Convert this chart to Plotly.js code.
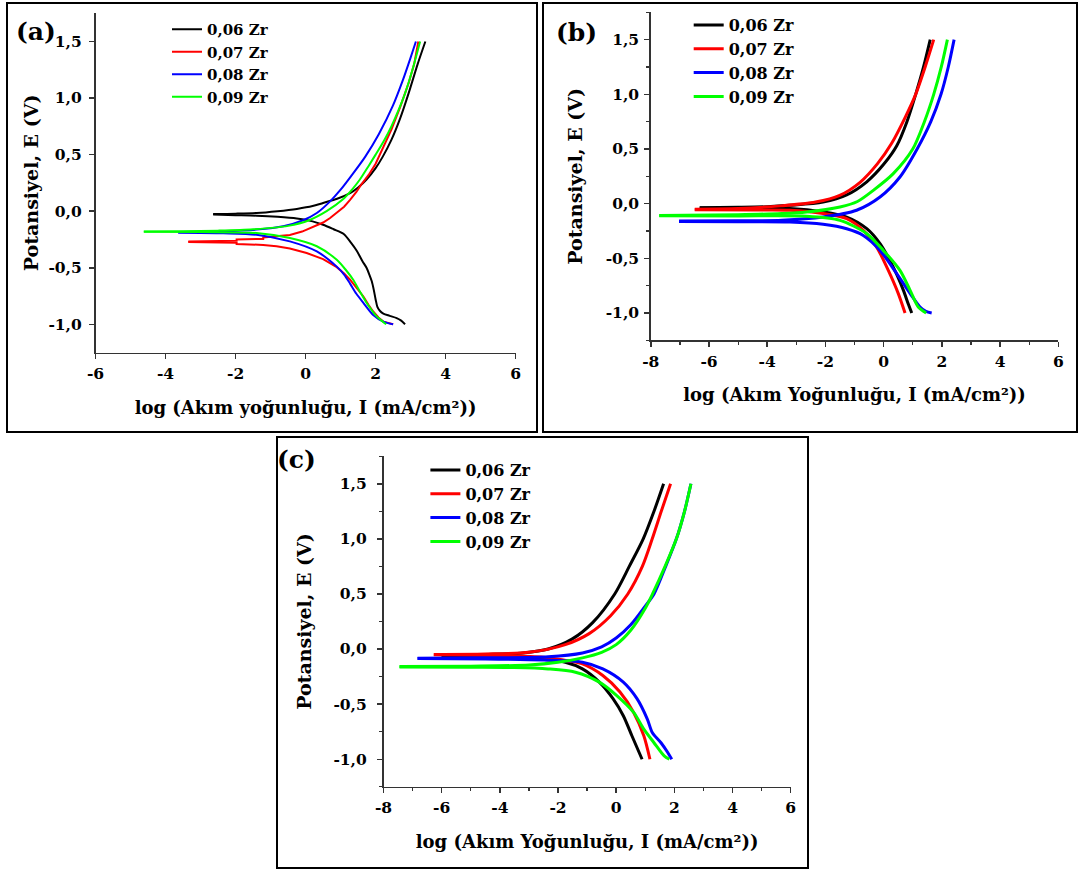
<!DOCTYPE html>
<html>
<head>
<meta charset="utf-8">
<script src="https://cdn.plot.ly/plotly-3.0.1.min.js"></script>
<style>
  html, body { margin: 0; padding: 0; background: #ffffff; }
  #chart { width: 1081px; height: 870px; }
</style>
</head>
<body>
<div id="chart"></div>
<script>
// ---------------- DATA (log I, E) ----------------
const seriesNames = ['0,06 Zr', '0,07 Zr', '0,08 Zr', '0,09 Zr'];

const yTickVals = [-1.0, -0.5, 0.0, 0.5, 1.0, 1.5];
const yTickText = ['-1,0', '-0,5', '0,0', '0,5', '1,0', '1,5'];
const xTickValsA = [-6, -4, -2, 0, 2, 4, 6];
const xTickTextA = ['-6', '-4', '-2', '0', '2', '4', '6'];
const xTickValsBC = [-8, -6, -4, -2, 0, 2, 4, 6];
const xTickTextBC = ['-8', '-6', '-4', '-2', '0', '2', '4', '6'];

// Panel (a)
const a06_anodic = [[-2.64,-0.025],[-2.0,-0.022],[-1.4,-0.016],[-0.8,0.0],[-0.25,0.02],[0.2,0.045],[0.5,0.073],[0.9,0.11],[1.27,0.16],[1.5,0.21],[1.74,0.28],[2.0,0.38],[2.2,0.48],[2.45,0.63],[2.7,0.82],[2.95,1.05],[3.2,1.3],[3.42,1.5]];
const a06_cathodic = [[-2.64,-0.03],[-2.0,-0.035],[-1.4,-0.04],[-0.8,-0.05],[-0.25,-0.065],[0.2,-0.09],[0.5,-0.12],[0.8,-0.16],[1.08,-0.2],[1.3,-0.28],[1.46,-0.35],[1.62,-0.44],[1.74,-0.5],[1.82,-0.56],[1.89,-0.62],[1.95,-0.7],[2.0,-0.78],[2.05,-0.845],[2.12,-0.88],[2.22,-0.905],[2.4,-0.925],[2.6,-0.945],[2.72,-0.965],[2.84,-1.0]];
const a07_anodic = [[-3.35,-0.267],[-1.97,-0.262],[-1.97,-0.25],[-1.21,-0.245],[-1.21,-0.232],[-0.83,-0.222],[-0.45,-0.21],[-0.1,-0.18],[0.1,-0.155],[0.3,-0.13],[0.5,-0.1],[0.7,-0.06],[0.89,-0.016],[1.1,0.04],[1.27,0.1],[1.45,0.17],[1.6,0.24],[1.8,0.32],[2.0,0.42],[2.2,0.55],[2.45,0.72],[2.7,0.92],[2.95,1.14],[3.1,1.3],[3.22,1.5]];
const a07_cathodic = [[-3.35,-0.272],[-1.97,-0.28],[-1.97,-0.29],[-1.21,-0.298],[-0.83,-0.31],[-0.45,-0.33],[0.03,-0.37],[0.5,-0.424],[0.89,-0.495],[1.1,-0.55],[1.27,-0.606],[1.45,-0.68],[1.65,-0.754],[1.8,-0.83],[1.93,-0.887],[2.08,-0.94],[2.22,-0.976],[2.5,-1.0]];
const a08_anodic = [[-3.64,-0.184],[-2.35,-0.178],[-1.4,-0.163],[-0.64,-0.134],[-0.07,-0.08],[0.32,-0.016],[0.7,0.087],[1.0,0.19],[1.3,0.31],[1.7,0.48],[2.09,0.68],[2.49,0.93],[2.78,1.16],[2.98,1.34],[3.15,1.5]];
const a08_cathodic = [[-3.64,-0.19],[-2.35,-0.195],[-1.4,-0.208],[-0.45,-0.267],[0.32,-0.356],[0.89,-0.49],[1.1,-0.56],[1.27,-0.64],[1.45,-0.73],[1.65,-0.81],[1.93,-0.917],[2.22,-0.976],[2.5,-1.0]];
const a09_anodic = [[-4.62,-0.18],[-3.5,-0.178],[-2.5,-0.172],[-1.5,-0.16],[-0.5,-0.13],[0.1,-0.08],[0.6,0.0],[1.05,0.1],[1.35,0.2],[1.55,0.28],[1.8,0.4],[2.0,0.5],[2.25,0.63],[2.45,0.75],[2.65,0.89],[2.85,1.05],[3.07,1.27],[3.27,1.5]];
const a09_cathodic = [[-4.62,-0.182],[-3.0,-0.185],[-1.4,-0.193],[-0.45,-0.237],[0.32,-0.31],[0.89,-0.43],[1.15,-0.52],[1.36,-0.606],[1.55,-0.71],[1.74,-0.81],[1.9,-0.88],[2.03,-0.93],[2.2,-0.975],[2.3,-1.0]];

// Panel (b)
const b06_anodic = [[-6.32,-0.036],[-5.0,-0.033],[-4.0,-0.028],[-3.22,-0.015],[-2.08,0.015],[-1.27,0.08],[-0.58,0.2],[0.0,0.36],[0.45,0.53],[0.8,0.75],[1.1,1.0],[1.37,1.25],[1.6,1.5]];
const b06_cathodic = [[-6.32,-0.04],[-4.5,-0.042],[-3.22,-0.045],[-2.08,-0.076],[-1.27,-0.122],[-0.58,-0.228],[-0.125,-0.365],[0.33,-0.58],[0.676,-0.79],[0.85,-0.92],[0.965,-1.0]];
const b07_anodic = [[-6.49,-0.05],[-5.0,-0.045],[-3.53,-0.02],[-2.34,0.015],[-1.51,0.076],[-0.8,0.198],[-0.21,0.366],[0.27,0.55],[0.74,0.79],[1.1,1.0],[1.45,1.27],[1.72,1.5]];
const b07_cathodic = [[-6.49,-0.055],[-4.5,-0.058],[-3.22,-0.06],[-2.08,-0.09],[-1.27,-0.137],[-0.7,-0.244],[-0.24,-0.397],[0.16,-0.61],[0.5,-0.82],[0.735,-1.0]];
const b08_anodic = [[-7.03,-0.159],[-5.0,-0.157],[-3.5,-0.152],[-2.08,-0.122],[-0.93,-0.06],[-0.125,0.061],[0.56,0.244],[1.15,0.5],[1.62,0.75],[1.97,1.0],[2.22,1.25],[2.42,1.5]];
const b08_cathodic = [[-7.03,-0.162],[-5.0,-0.165],[-3.22,-0.168],[-2.08,-0.189],[-1.27,-0.229],[-0.7,-0.29],[-0.125,-0.427],[0.45,-0.64],[0.906,-0.82],[1.25,-0.945],[1.45,-0.985],[1.65,-1.0]];
const b09_anodic = [[-7.71,-0.107],[-5.0,-0.1],[-3.5,-0.09],[-2.65,-0.076],[-1.5,-0.03],[-0.9,0.02],[-0.355,0.122],[0.33,0.275],[1.0,0.5],[1.4,0.75],[1.72,1.0],[1.98,1.25],[2.19,1.5]];
const b09_cathodic = [[-7.71,-0.11],[-5.0,-0.112],[-2.65,-0.115],[-1.5,-0.152],[-0.58,-0.274],[-0.01,-0.427],[0.56,-0.61],[0.906,-0.79],[1.19,-0.945],[1.46,-1.0]];

// Panel (c)
const c06_anodic = [[-6.0,-0.06],[-4.5,-0.05],[-3.2,-0.035],[-2.34,0.0],[-1.52,0.09],[-0.81,0.24],[-0.05,0.5],[0.45,0.75],[0.93,1.0],[1.3,1.25],[1.63,1.5]];
const c06_cathodic = [[-6.0,-0.065],[-4.0,-0.075],[-2.5,-0.095],[-1.75,-0.12],[-1.16,-0.18],[-0.58,-0.3],[-0.11,-0.45],[0.245,-0.605],[0.54,-0.787],[0.89,-1.0]];
const c07_anodic = [[-6.27,-0.049],[-4.5,-0.045],[-3.0,-0.03],[-1.75,0.04],[-0.93,0.14],[-0.2,0.3],[0.4,0.5],[0.9,0.75],[1.24,1.0],[1.55,1.25],[1.87,1.5]];
const c07_cathodic = [[-6.27,-0.052],[-4.0,-0.06],[-2.5,-0.075],[-1.6,-0.11],[-1.16,-0.135],[-0.46,-0.24],[0.13,-0.39],[0.6,-0.575],[0.95,-0.787],[1.16,-1.0]];
const c08_anodic = [[-6.83,-0.083],[-4.5,-0.08],[-2.34,-0.07],[-1.16,-0.035],[-0.5,0.02],[0.0,0.1],[0.5,0.22],[1.0,0.39],[1.3,0.5],[1.7,0.75],[2.07,1.0],[2.35,1.25],[2.57,1.5]];
const c08_cathodic = [[-6.83,-0.086],[-4.5,-0.09],[-2.5,-0.1],[-1.16,-0.12],[-0.46,-0.18],[0.245,-0.3],[0.715,-0.45],[1.07,-0.635],[1.24,-0.757],[1.54,-0.85],[1.75,-0.93],[1.91,-1.0]];
const c09_anodic = [[-7.45,-0.159],[-5.0,-0.155],[-3.0,-0.145],[-2.0,-0.12],[-1.16,-0.08],[-0.5,-0.03],[0.0,0.04],[0.5,0.17],[1.0,0.37],[1.25,0.5],[1.68,0.75],[2.07,1.0],[2.35,1.25],[2.57,1.5]];
const c09_cathodic = [[-7.45,-0.162],[-5.0,-0.165],[-3.51,-0.168],[-2.34,-0.18],[-1.4,-0.21],[-0.58,-0.3],[0.01,-0.42],[0.6,-0.575],[0.95,-0.727],[1.3,-0.85],[1.65,-0.97],[1.83,-1.0]];

// ---------------- STYLE ----------------
const colors = ['#000000', '#ff0000', '#0000ff', '#00ff00'];
const FONT = 'DejaVu Serif, Liberation Serif, serif';
const W = 1081, H = 870;
const px = v => v / W;
const py = v => 1 - v / H;

const panels = [
  { key: 'a', xa: 'x',  ya: 'y',  legend: 'legend',  width: 2,
    series: [[a06_anodic, a06_cathodic], [a07_anodic, a07_cathodic], [a08_anodic, a08_cathodic], [a09_anodic, a09_cathodic]] },
  { key: 'b', xa: 'x2', ya: 'y2', legend: 'legend2', width: 3,
    series: [[b06_anodic, b06_cathodic], [b07_anodic, b07_cathodic], [b08_anodic, b08_cathodic], [b09_anodic, b09_cathodic]] },
  { key: 'c', xa: 'x3', ya: 'y3', legend: 'legend3', width: 3,
    series: [[c06_anodic, c06_cathodic], [c07_anodic, c07_cathodic], [c08_anodic, c08_cathodic], [c09_anodic, c09_cathodic]] }
];

const traces = [];
panels.forEach(p => {
  p.series.forEach((branches, i) => {
    const stepped = (p.key === 'a' && i === 1);
    branches.forEach((pts, j) => {
      traces.push({
        type: 'scatter', mode: 'lines',
        x: pts.map(q => q[0]), y: pts.map(q => q[1]),
        xaxis: p.xa, yaxis: p.ya,
        name: seriesNames[i],
        legend: p.legend,
        showlegend: j === 0,
        line: { color: colors[i], width: p.width,
                shape: stepped ? 'linear' : 'spline', smoothing: 0.8 },
        hoverinfo: 'x+y+name'
      });
    });
  });
});

const TICK_SIZE = 15.5, XTITLE_SIZE = 18, YTITLE_SIZE = 19;

function xAxis(domain, range, vals, text, title, minor, anchor) {
  const ax = {
    domain: domain, range: range, anchor: anchor,
    showline: true, linecolor: '#333333', linewidth: 1.6, mirror: false,
    showgrid: false, zeroline: false,
    ticks: 'outside', ticklen: 5, tickwidth: 1.5, tickcolor: '#333333',
    tickmode: 'array', tickvals: vals, ticktext: text,
    ticklabelstandoff: 1,
    tickfont: { family: FONT, size: TICK_SIZE, color: '#000', weight: 'bold' },
    title: { text: title, font: { family: FONT, size: XTITLE_SIZE, color: '#000', weight: 'bold' }, standoff: 19 },
    fixedrange: true
  };
  if (minor) ax.minor = { tickmode: 'linear', tick0: 0, dtick: 1, ticks: 'outside', ticklen: 3, tickwidth: 1.2, tickcolor: '#333333' };
  return ax;
}
function yAxis(domain, title, minor, anchor, labelGap, standoff) {
  const ax = {
    domain: domain, range: [-1.25, 1.75], anchor: anchor,
    showline: true, linecolor: '#333333', linewidth: 1.6, mirror: false,
    showgrid: false, zeroline: false,
    ticks: 'outside', ticklen: 5, tickwidth: 1.5, tickcolor: '#333333',
    tickmode: 'array', tickvals: yTickVals, ticktext: yTickText,
    ticklabelstandoff: labelGap,
    tickfont: { family: FONT, size: TICK_SIZE, color: '#000', weight: 'bold' },
    title: { text: title, font: { family: FONT, size: YTITLE_SIZE, color: '#000', weight: 'bold' }, standoff: standoff },
    fixedrange: true
  };
  if (minor) ax.minor = { tickmode: 'linear', tick0: 0, dtick: 0.25, ticks: 'outside', ticklen: 3, tickwidth: 1.2, tickcolor: '#333333' };
  return ax;
}

const yTitle = 'Potansiyel, E (V)';
const xTitleA = 'log (Akım yoğunluğu, I (mA/cm²))';
const xTitleBC = 'log (Akım Yoğunluğu, I (mA/cm²))';

function legendAt(x, y, size) {
  return {
    x: px(x), y: py(y), xanchor: 'left', yanchor: 'top',
    bgcolor: 'rgba(0,0,0,0)', borderwidth: 0,
    traceorder: 'normal', tracegroupgap: 0,
    font: { family: FONT, size: size, color: '#000', weight: 'bold' },
    itemclick: false, itemdoubleclick: false
  };
}

function frame(x0, y0, x1, y1) {
  return { type: 'rect', xref: 'paper', yref: 'paper',
           x0: px(x0), x1: px(x1), y0: py(y1), y1: py(y0),
           line: { color: '#000', width: 2 }, fillcolor: 'rgba(0,0,0,0)', layer: 'above' };
}
function panelLabel(text, x, y) {
  return { text: text, xref: 'paper', yref: 'paper', x: px(x), y: py(y),
           xanchor: 'center', yanchor: 'middle', showarrow: false,
           font: { family: FONT, size: 25, color: '#000', weight: 'bold' } };
}

const layout = {
  width: W, height: H,
  margin: { l: 0, r: 0, t: 0, b: 0 },
  paper_bgcolor: '#ffffff', plot_bgcolor: '#ffffff',
  font: { family: FONT, color: '#000' },
  showlegend: true,
  xaxis:  xAxis([px(95.5), px(515.7)], [-6, 6], xTickValsA, xTickTextA, xTitleA, false, 'y'),
  yaxis:  yAxis([py(352.6), py(13.2)], yTitle, false, 'x', 4, 5),
  xaxis2: xAxis([px(650.8), px(1058.3)], [-8, 6], xTickValsBC, xTickTextBC, xTitleBC, true, 'y2'),
  yaxis2: yAxis([py(340.4), py(12.3)], yTitle, true, 'x2', 2, 18),
  xaxis3: xAxis([px(383.5), px(790.7)], [-8, 6], xTickValsBC, xTickTextBC, xTitleBC, true, 'y3'),
  yaxis3: yAxis([py(786.8), py(456.2)], yTitle, true, 'x3', 7, 17),
  legend:  legendAt(167, 13, 15),
  legend2: legendAt(688.7, 8.1, 16),
  legend3: legendAt(425.4, 453.1, 16),
  shapes: [frame(7, 3, 537, 432), frame(543, 3, 1077, 432), frame(277, 437, 808, 868)],
  annotations: [panelLabel('(a)', 35.8, 31.7), panelLabel('(b)', 576.7, 32.5), panelLabel('(c)', 296.7, 459.2)]
};

Plotly.newPlot('chart', traces, layout, { displayModeBar: false, staticPlot: true });
</script>
</body>
</html>
